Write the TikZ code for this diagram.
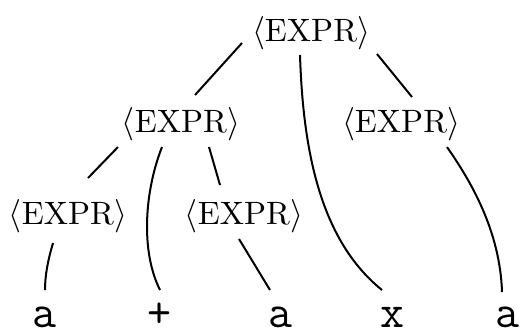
\documentclass[tikz,border=0pt]{standalone}
\usepackage{fontspec}
\begin{document}
\begin{tikzpicture}[
  x=0.3pt, y=-0.3pt,
  % nonterminal symbols
  expr/.style={inner sep=0pt, font=\fontsize{9.7}{12}\selectfont},
  % terminal symbols (leaves of the tree)
  leaf/.style={inner sep=0pt, anchor=base, font=\ttfamily\fontsize{14}{16}\selectfont},
  % tree branches
  branch/.style={line width=0.6pt, black},
]
\useasboundingbox (0,0) rectangle (526,334);

% ── NONTERMINALS ─────────────────────────────
\node[expr] (root) at (311,33)  {$\langle$EXPR$\rangle$};
\node[expr] (l)    at (181,124) {$\langle$EXPR$\rangle$};
\node[expr] (r)    at (401,124) {$\langle$EXPR$\rangle$};
\node[expr] (ll)   at (68,216)  {$\langle$EXPR$\rangle$};
\node[expr] (lm)   at (244,216) {$\langle$EXPR$\rangle$};

% ── LEAVES ───────────────────────────────────
\node[leaf] (a1)    at (45,327)  {a};
\node[leaf] (plus)  at (160,327) {+};
\node[leaf] (a2)    at (281,327) {a};
\node[leaf] (times) at (393,327) {x};
\node[leaf] (a3)    at (508,327) {a};

% ── BRANCHES ─────────────────────────────────
\draw[branch] ([shift={(-69,10)}]root.center) -- ([shift={(14,-29)}]l.center);
\draw[branch] ([shift={(66,21)}]root.center) -- ([shift={(11,-27)}]r.center);
\draw[branch] ([shift={(-11,22)}]root.center)
  .. controls +(3,95) and +(-62,-50) .. ([shift={(-11,-37)}]times.base);
\draw[branch] ([shift={(46,23)}]r.center)
  .. controls +(23,33) and +(-2,-62) .. ([shift={(-6,-35)}]a3.base);

\draw[branch] ([shift={(-63,23)}]l.center) -- ([shift={(20,-38)}]ll.center);
\draw[branch] ([shift={(-19,23)}]l.center)
  .. controls +(-17,43) and +(-20,-40) .. ([shift={(0,-37)}]plus.base);
\draw[branch] ([shift={(28,23)}]l.center) -- ([shift={(-24,-31)}]lm.center);

\draw[branch] ([shift={(-15,27)}]ll.center)
  .. controls +(-5,17) and +(0,-15) .. ([shift={(0,-37)}]a1.base);
\draw[branch] ([shift={(-5,23)}]lm.center) -- ([shift={(-11,-37)}]a2.base);

\end{tikzpicture}
\end{document}
